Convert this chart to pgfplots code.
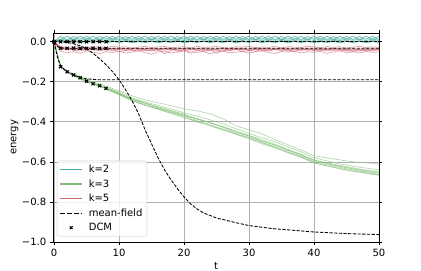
\documentclass[border=0pt]{standalone}
\usepackage{fontspec}
\setmainfont{DejaVu Sans}
\usepackage{pgfplots}
\usepackage{pgfplotstable}
\pgfplotsset{compat=1.18}
\definecolor{cteal}{HTML}{44AA99}
\definecolor{cgreen}{RGB}{130,190,120}
\definecolor{crose}{HTML}{CC6677}
\definecolor{gridgray}{HTML}{B0B0B0}
\definecolor{leggray}{HTML}{CCCCCC}

% top band: t, teal (k=2) a1..a5, rose (k=5) b1..b7
\pgfplotstableread{
t a1 a2 a3 a4 a5 b1 b2 b3 b4 b5 b6 b7
0 0 0 0 0 0 0 0 0 0 0 0 0
1 .012 .027 .013 .008 .001 -.028 -.032 -.035 -.030 -.038 -.025 -.048
2 .028 .011 .007 .001 -.004 -.034 -.036 -.030 -.041 -.033 -.029 -.055
3 .011 .026 .013 .007 .002 -.038 -.031 -.044 -.035 -.040 -.023 -.050
4 .027 .012 .006 .000 -.005 -.033 -.040 -.037 -.032 -.046 -.027 -.058
5 .012 .027 .014 .006 .001 -.036 -.035 -.033 -.043 -.038 -.031 -.046
6 .028 .011 .007 .002 -.004 -.041 -.038 -.040 -.036 -.034 -.024 -.052
7 .011 .026 .013 .005 .002 -.035 -.046 -.036 -.031 -.042 -.026 -.060
8 .027 .012 .006 .001 -.005 -.032 -.037 -.042 -.038 -.036 -.030 -.049
9 .012 .027 .014 .006 .001 -.037 -.033 -.035 -.045 -.040 -.022 -.054
10 .028 .011 .007 .000 -.004 -.040 -.039 -.031 -.036 -.050 -.028 -.047
11 .011 .026 .013 .007 .002 -.036 -.043 -.038 -.033 -.044 -.025 -.057
12 .027 .012 .006 .001 -.005 -.034 -.036 -.045 -.040 -.037 -.032 -.051
13 .012 .027 .014 .006 .001 -.039 -.032 -.040 -.048 -.035 -.027 -.045
14 .028 .011 .007 .002 -.004 -.045 -.038 -.034 -.037 -.041 -.023 -.055
15 .011 .026 .013 .005 .002 -.038 -.044 -.037 -.032 -.047 -.029 -.062
16 .027 .012 .006 .000 -.005 -.033 -.040 -.043 -.039 -.038 -.026 -.050
17 .012 .027 .014 .006 .001 -.035 -.035 -.036 -.060 -.042 -.024 -.048
18 .028 .011 .007 .001 -.004 -.040 -.037 -.033 -.044 -.036 -.030 -.056
19 .011 .026 .013 .007 .002 -.037 -.048 -.041 -.036 -.043 -.027 -.052
20 .027 .012 .006 .001 -.005 -.034 -.039 -.046 -.033 -.039 -.025 -.046
21 .012 .027 .014 .006 .001 -.036 -.034 -.038 -.040 -.052 -.031 -.058
22 .028 .011 .007 .000 -.004 -.042 -.040 -.034 -.037 -.044 -.023 -.053
23 .011 .026 .013 .005 .002 -.050 -.043 -.039 -.035 -.038 -.028 -.049
24 .027 .012 .006 .002 -.005 -.040 -.037 -.045 -.041 -.036 -.026 -.061
25 .012 .027 .014 .006 .001 -.035 -.058 -.040 -.038 -.042 -.024 -.050
26 .028 .011 .007 .001 -.004 -.037 -.044 -.035 -.034 -.047 -.029 -.047
27 .011 .026 .013 .007 .002 -.033 -.038 -.042 -.045 -.040 -.032 -.055
28 .027 .012 .006 .000 -.005 -.036 -.035 -.037 -.039 -.037 -.025 -.052
29 .012 .027 .014 .006 .001 -.039 -.041 -.033 -.036 -.050 -.027 -.048
30 .028 .011 .007 .001 -.004 -.041 -.037 -.044 -.042 -.043 -.023 -.057
31 .011 .026 .013 .005 .002 -.036 -.034 -.039 -.048 -.038 -.030 -.050
32 .027 .012 .006 .002 -.005 -.034 -.045 -.036 -.037 -.041 -.026 -.046
33 .012 .027 .014 .006 .001 -.038 -.040 -.042 -.034 -.046 -.028 -.054
34 .028 .011 .007 .000 -.004 -.035 -.036 -.038 -.040 -.039 -.024 -.059
35 .011 .026 .013 .007 .002 -.033 -.042 -.035 -.044 -.036 -.031 -.049
36 .027 .012 .006 .001 -.005 -.037 -.038 -.047 -.038 -.042 -.025 -.052
37 .012 .027 .014 .006 .001 -.040 -.035 -.040 -.035 -.048 -.027 -.047
38 .028 .011 .007 .002 -.004 -.036 -.043 -.036 -.041 -.040 -.029 -.056
39 .011 .026 .013 .005 .002 -.034 -.039 -.043 -.037 -.037 -.023 -.050
40 .027 .012 .006 .000 -.005 -.038 -.036 -.039 -.045 -.043 -.026 -.053
41 .012 .027 .014 .006 .001 -.041 -.044 -.034 -.040 -.039 -.030 -.048
42 .028 .011 .007 .001 -.004 -.037 -.038 -.041 -.036 -.045 -.024 -.058
43 .011 .026 .013 .007 .002 -.034 -.035 -.037 -.043 -.041 -.028 -.051
44 .027 .012 .006 .002 -.005 -.036 -.040 -.044 -.038 -.036 -.025 -.046
45 .012 .027 .014 .006 .001 -.039 -.046 -.038 -.035 -.044 -.032 -.055
46 .028 .011 .007 .000 -.004 -.042 -.041 -.035 -.041 -.049 -.027 -.050
47 .011 .026 .013 .005 .002 -.038 -.037 -.040 -.047 -.042 -.024 -.057
48 .027 .012 .006 .001 -.005 -.035 -.043 -.046 -.039 -.038 -.029 -.049
49 .012 .027 .014 .006 .001 -.037 -.039 -.041 -.036 -.045 -.026 -.053
50 .028 .011 .007 .002 -.004 -.036 -.036 -.037 -.042 -.040 -.028 -.051
}\toptab

% k=3 runs
\pgfplotstableread{
t g1 g2 g3 g4 g5 g6 g7 g8
0 0 0 0 0 0 0 0 0
1 -.120 -.128 -.124 -.126 -.123 -.127 -.125 -.122
2 -.145 -.152 -.148 -.151 -.149 -.150 -.149 -.147
3 -.160 -.170 -.166 -.168 -.165 -.169 -.166 -.163
4 -.175 -.186 -.180 -.184 -.181 -.183 -.182 -.178
5 -.190 -.200 -.196 -.198 -.195 -.199 -.196 -.193
6 -.200 -.212 -.209 -.211 -.208 -.213 -.210 -.205
7 -.210 -.224 -.221 -.219 -.218 -.223 -.220 -.216
8 -.222 -.236 -.231 -.234 -.230 -.235 -.232 -.228
10 -.245 -.265 -.258 -.262 -.256 -.263 -.259 -.252
12 -.270 -.295 -.287 -.292 -.285 -.294 -.288 -.280
14 -.290 -.318 -.306 -.314 -.305 -.316 -.308 -.300
16 -.305 -.336 -.328 -.334 -.325 -.338 -.330 -.318
18 -.320 -.357 -.346 -.352 -.343 -.358 -.350 -.336
20 -.335 -.378 -.366 -.372 -.362 -.378 -.368 -.355
22 -.345 -.398 -.387 -.394 -.383 -.400 -.386 -.372
24 -.360 -.418 -.405 -.414 -.403 -.420 -.405 -.390
26 -.385 -.440 -.425 -.436 -.423 -.440 -.428 -.410
28 -.420 -.460 -.450 -.458 -.447 -.463 -.452 -.435
30 -.440 -.480 -.472 -.478 -.468 -.485 -.470 -.458
32 -.460 -.505 -.498 -.502 -.490 -.510 -.494 -.480
34 -.490 -.528 -.515 -.524 -.512 -.530 -.518 -.500
36 -.515 -.552 -.540 -.548 -.538 -.555 -.542 -.525
38 -.540 -.575 -.565 -.572 -.562 -.578 -.566 -.550
40 -.570 -.605 -.592 -.600 -.590 -.605 -.595 -.580
42 -.580 -.620 -.607 -.615 -.605 -.620 -.610 -.595
44 -.590 -.633 -.622 -.628 -.618 -.635 -.623 -.610
46 -.600 -.645 -.634 -.640 -.630 -.647 -.636 -.622
48 -.605 -.655 -.644 -.651 -.641 -.658 -.648 -.631
50 -.610 -.664 -.652 -.661 -.649 -.667 -.657 -.640
}\greentab

\pgfplotsset{
  runT/.style={cteal, line width=0.8bp, opacity=0.75, forget plot},
  runG/.style={cgreen, line width=0.6bp, opacity=0.65, forget plot},
  runR/.style={crose, line width=0.7bp, opacity=0.6, forget plot},
  mf/.style={black, line width=0.85bp, dash pattern=on 3.2bp off 1.5bp, forget plot},
  dcm/.style={only marks, mark=x, mark size=2.2bp, black, mark options={line width=1.1bp}, forget plot},
}
\newcommand\tenbp{\fontsize{10bp}{12bp}\selectfont}

\begin{document}
\tenbp
\begin{tikzpicture}[font=\tenbp]
\useasboundingbox (-53bp,-29bp) rectangle (368bp,242bp);
\begin{axis}[
  scale only axis,
  width=326bp, height=209bp,
  xmin=-0.17, xmax=50, ymin=-1.0, ymax=0.0435,
  xtick={0,10,20,30,40,50},
  xticklabels={0,10,20,30,40,50},
  ytick={-1.0,-0.8,-0.6,-0.4,-0.2,0.0},
  yticklabels={−1.0,−0.8,−0.6,−0.4,−0.2,0.0},
  tick label style={font=\tenbp},
  label style={font=\tenbp},
  tick align=outside,
  major tick length=3.2bp,
  tick style={black, line width=0.7bp},
  axis line style={line width=0.7bp},
  grid=major,
  major grid style={gridgray, line width=0.7bp},
  xlabel={t}, ylabel={energy},
  xlabel style={at={(axis description cs:0.5,0)}, anchor=base, yshift=-27bp},
  ylabel style={at={(axis description cs:-0.1123,0.5)}, anchor=base, rotate=0},
  legend cell align=left,
  legend image code/.code={\draw[mark repeat=2,mark phase=2,#1] plot coordinates {(0bp,0bp) (10.8bp,0bp) (21.6bp,0bp)};},
  legend style={at={(rel axis cs:0.012,0.027)}, anchor=south west,
    draw=leggray, rounded corners=2bp, fill=white, fill opacity=0.8, text opacity=1,
    font=\tenbp, row sep=1.5bp, inner xsep=2.5bp, inner ysep=2bp,
    /tikz/every odd column/.style={column sep=4bp}},
]
% k=5 runs
\addplot[runR] table[x=t,y=b1]{\toptab};
\addplot[runR] table[x=t,y=b2]{\toptab};
\addplot[runR] table[x=t,y=b3]{\toptab};
\addplot[runR] table[x=t,y=b4]{\toptab};
\addplot[runR] table[x=t,y=b5]{\toptab};
\addplot[runR] table[x=t,y=b6]{\toptab};
\addplot[runR] table[x=t,y=b7]{\toptab};
% k=2 runs
\addplot[runT] table[x=t,y=a1]{\toptab};
\addplot[runT] table[x=t,y=a2]{\toptab};
\addplot[runT] table[x=t,y=a3]{\toptab};
\addplot[runT] table[x=t,y=a4]{\toptab};
\addplot[runT] table[x=t,y=a5]{\toptab};
% k=3 runs
\addplot[runG] table[x=t,y=g1]{\greentab};
\addplot[runG] table[x=t,y=g2]{\greentab};
\addplot[runG] table[x=t,y=g3]{\greentab};
\addplot[runG] table[x=t,y=g4]{\greentab};
\addplot[runG] table[x=t,y=g5]{\greentab};
\addplot[runG] table[x=t,y=g6]{\greentab};
\addplot[runG] table[x=t,y=g7]{\greentab};
\addplot[runG] table[x=t,y=g8]{\greentab};
% mean-field
\addplot[mf] coordinates {(0,0) (50,0)};
\addplot[mf] coordinates {(0,0) (0.3,-0.016) (0.6,-0.026) (1,-0.031) (2,-0.033) (50,-0.033)};
\addplot[mf] coordinates {(0,0) (0.25,-0.04) (0.5,-0.075) (0.75,-0.1) (1,-0.118) (1.5,-0.137) (2,-0.15) (3,-0.167) (4,-0.178) (5,-0.185) (6,-0.188) (7,-0.19) (8,-0.19) (50,-0.19)};
\addplot[mf] coordinates {(0,0) (1,-0.001) (2,-0.004) (3,-0.01) (4,-0.02) (5,-0.035) (6,-0.058) (7,-0.085) (8,-0.115) (9,-0.15) (10,-0.19) (11,-0.24) (12,-0.295) (13,-0.36) (14,-0.44) (15,-0.51) (16,-0.58) (17,-0.64) (18,-0.69) (19,-0.735) (20,-0.775) (21,-0.81) (22,-0.835) (23,-0.855) (25,-0.88) (27.5,-0.90) (30,-0.918) (33.6,-0.933) (40,-0.95) (45,-0.958) (50,-0.963)};
% DCM
\addplot[dcm] coordinates {(0,0) (1,0) (2,0) (3,0) (4,0) (5,0) (6,0) (7,0) (8,0)};
\addplot[dcm] coordinates {(0,0) (1,-0.033) (2,-0.033) (3,-0.033) (4,-0.033) (5,-0.033) (6,-0.033) (7,-0.033) (8,-0.033)};
\addplot[dcm] coordinates {(0,0) (1,-0.125) (2,-0.15) (3,-0.166) (4,-0.18) (5,-0.197) (6,-0.21) (7,-0.22) (8,-0.233)};
% legend
\addlegendimage{cteal, line width=1.6bp}
\addlegendentry{k=2}
\addlegendimage{cgreen, line width=1.6bp}
\addlegendentry{k=3}
\addlegendimage{crose, line width=1.6bp}
\addlegendentry{k=5}
\addlegendimage{black, line width=1.3bp, dash pattern=on 4.8bp off 2bp}
\addlegendentry{mean-field}
\addlegendimage{only marks, mark=x, mark size=2bp, black, mark options={line width=1bp}}
\addlegendentry{DCM}
\end{axis}
\end{tikzpicture}
\end{document}
